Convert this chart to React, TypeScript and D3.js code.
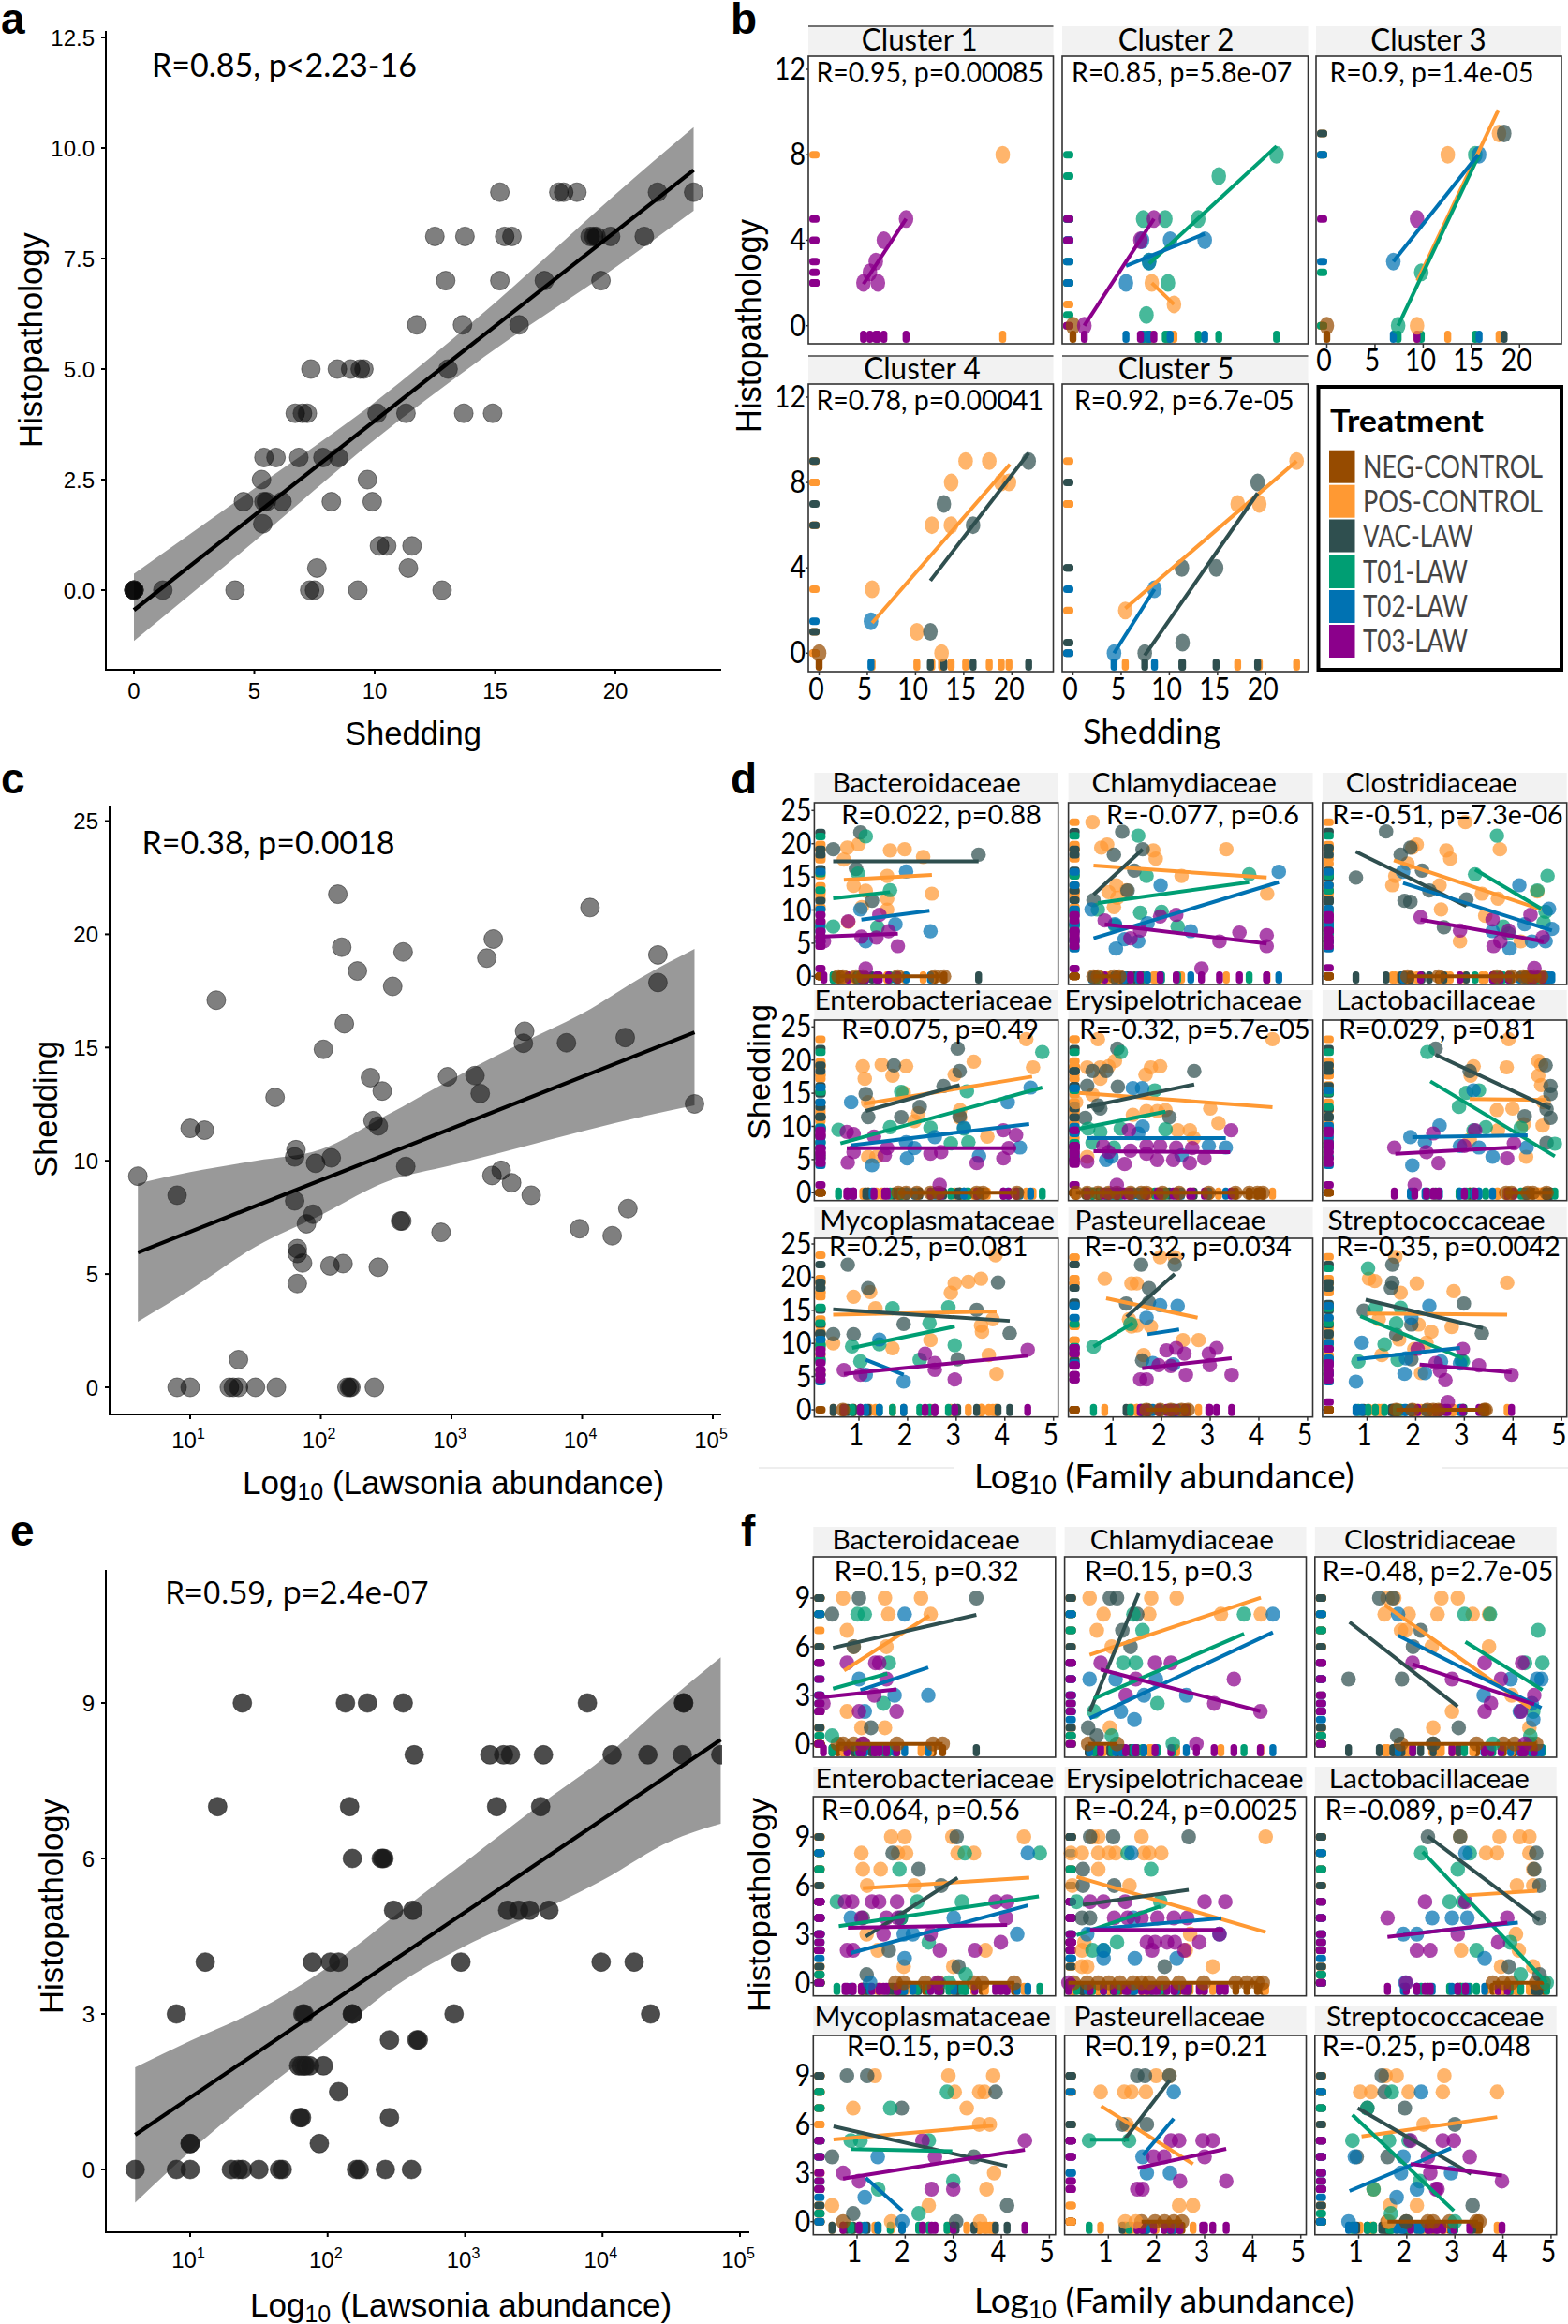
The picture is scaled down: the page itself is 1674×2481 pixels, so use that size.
import React from "react";
import * as d3 from "d3";

// ---------- Treatments ----------
const treatments = ["NEG-CONTROL", "POS-CONTROL", "VAC-LAW", "T01-LAW", "T02-LAW", "T03-LAW"];
const treatmentKeys = ["NEG", "POS", "VAC", "T01", "T02", "T03"];
const treatmentColors = ["#964B00", "#FF9933", "#2F4F4F", "#009E73", "#0072B2", "#8B008B"];

// ---------- Panel a : [shedding, histopathology] flat pairs ----------
const aPoints = [0,0,0,0,0,0,0,0,1.2,0,4.2,0,7.3,0,7.5,0,9.3,0,12.8,0,7.6,.5,11.4,.5,10.2,1,10.5,1,11.55,1,5.35,1.5,4.55,2,5.4,2,5.5,2,6.15,2,8.2,2,9.9,2,5.3,2.5,9.7,2.5,5.4,3,5.9,3,6.85,3,7.85,3,8.5,3,6.7,4,7,4,7.2,4,10.1,4,11.3,4,13.7,4,14.9,4,7.35,5,8.45,5,9,5,9.4,5,9.55,5,13.05,5,11.75,6,13.65,6,16,6,12.95,7,15.2,7,17.05,7,19.4,7,12.5,8,13.75,8,15.4,8,15.7,8,18.95,8,19.1,8,19.2,8,19.8,8,21.2,8,15.2,9,17.65,9,17.85,9,18.4,9,21.75,9,23.25,9];
const aFit = [0, -0.45, 23.25, 9.5];
const aBandX = [0, 5, 10, 15, 20, 23.25];
const aBandHi = [.37, 2.3, 4.25, 6.5, 8.95, 10.47];
const aBandLo = [-1.15, 1.1, 3.4, 5.45, 7.3, 8.58];
const aXTicks = [0, 5, 10, 15, 20];
const aYTicks = [0, 2.5, 5, 7.5, 10, 12.5];

// ---------- Panel c : [log10 abundance, shedding] ----------
const cPoints = [.6,9.32,.9,8.48,1,11.43,1.11,11.35,1.2,17.09,1.65,12.8,2.13,21.77,2.16,19.43,2.28,18.38,2.55,17.7,2.63,19.22,2.18,16.05,2.02,14.92,2.38,13.67,2.47,13.08,2.97,13.71,3.18,13.76,3.22,12.97,3.27,18.95,3.32,19.79,4.06,21.18,4.58,19.09,4.58,17.87,3.56,15.72,3.55,15.19,3.88,15.21,4.33,15.44,4.86,12.51,2.4,11.77,2.44,11.54,1.81,10.49,1.8,10.17,1.96,9.89,2.08,10.13,2.65,9.75,3.31,9.35,3.38,9.58,3.46,9.03,3.61,8.48,1.8,8.23,1.94,7.64,1.89,7.22,2.61,7.34,2.62,7.34,2.92,6.84,3.98,7,4.23,6.69,4.35,7.89,1.82,6.12,1.82,5.91,1.86,5.49,2.07,5.36,2.17,5.46,2.44,5.3,1.82,4.58,1.37,1.22,.9,0,1,0,1.3,0,1.33,0,1.37,0,1.5,0,1.66,0,2.2,0,2.22,0,2.23,0,2.41,0];
const cFit = [.6, 5.95, 4.86, 15.67];
const cBandX = [.6, 1, 1.5, 2, 2.5, 3, 3.5, 4, 4.5, 4.86];
const cBandHi = [9, 9.5, 10, 10.5, 12, 13.6, 15.1, 16.5, 18.25, 19.35];
const cBandLo = [2.9, 4.3, 6.2, 7.6, 9.07, 9.8, 10.55, 11.3, 12, 12.45];
const cXTicks = [1, 2, 3, 4, 5];
const cYTicks = [0, 5, 10, 15, 20, 25];

// ---------- Panel e : [log10 abundance, histopathology] ----------
const ePoints = [1.38,9,2.13,9,2.29,9,2.55,9,3.89,9,4.59,9,4.59,9,2.63,8,3.18,8,3.28,8,3.33,8,3.57,8,4.07,8,4.33,8,4.58,8,4.86,8,1.2,7,2.16,7,3.23,7,3.55,7,2.18,6,2.39,6,2.4,6,2.41,6,2.48,5,2.62,5,3.31,5,3.39,5,3.47,5,3.61,5,1.11,4,1.89,4,2.02,4,2.08,4,2.97,4,3.99,4,4.23,4,.9,3,1.82,3,1.83,3,2.18,3,2.18,3,2.92,3,4.35,3,2.45,2.5,2.65,2.5,2.66,2.5,1.79,2,1.81,2,1.83,2,1.84,2,1.87,2,1.97,2,2.08,1.5,1.8,1,1.81,1,2.45,1,1,.5,1,.5,1.94,.5,.6,0,.9,0,1,0,1.3,0,1.35,0,1.38,0,1.5,0,1.65,0,1.67,0,2.21,0,2.23,0,2.42,0,2.61,0];
const eFit = [.6, .67, 4.86, 8.29];
const eBandX = [.6, 1, 1.5, 2, 2.5, 3, 3.5, 4, 4.5, 4.86];
const eBandHi = [1.97, 2.48, 3.09, 3.9, 4.92, 5.93, 6.95, 7.92, 9.09, 9.88];
const eBandLo = [-.64, .35, 1.46, 2.48, 3.55, 4.31, 4.92, 5.58, 6.34, 6.67];
const eXTicks = [1, 2, 3, 4, 5];
const eYTicks = [0, 3, 6, 9];

// A series: treatment key, flat [x,y,...] points, fit [x1,y1,x2,y2]
type S = [string, number[], number[]];

// ---------- Panel b ----------
const bCluster1: S[] = [
  ["POS", [19.05,8], []],
  ["T03", [4.6,2,6.1,2,5.27,2.5,5.88,3,6.72,4,9.02,5], [4.6,1.95,9.02,5]],
];
const bCluster2: S[] = [
  ["NEG", [0,0], []],
  ["POS", [8.18,2,10.48,1], [8.18,2,10.48,1]],
  ["T01", [7.28,5,9.58,5,13,5,15.13,7,21.12,8,9.86,2,7.62,.5,7.9,3], [7.9,2.9,21.12,8.4]],
  ["T02", [5.5,2,7.17,4,7.9,3,10.08,4,13.67,4], [5.5,2.8,13.67,4.3]],
  ["T03", [1.18,0,7,4,8.4,5], [1.18,0,8.4,5]],
];
const bCluster3: S[] = [
  ["NEG", [0,0], []],
  ["POS", [9.36,0,12.55,8,17.87,9], [9.4,2.1,17.8,10.1]],
  ["VAC", [18.4,9], []],
  ["T01", [7.4,0,9.8,2.5,15.4,8], [7.4,0,15.8,8]],
  ["T02", [6.9,3,15.8,8], [6.9,3,15.7,8]],
  ["T03", [9.36,5], []],
];
const bCluster4: S[] = [
  ["NEG", [0,0], []],
  ["POS", [5.5,3,10.14,1,12.7,0,11.7,6,13.67,6,13.7,8,15.2,9,17.65,9,18.9,8,19.7,8], [5.5,1.42,19.8,8.85]],
  ["VAC", [11.54,1,12.94,7,15.97,6,21.74,9], [11.54,3.4,21.74,9.38]],
  ["T02", [5.38,1.5], []],
];
const bCluster5: S[] = [
  ["POS", [5.43,2,17.09,7,19.33,7,23.2,9], [5.43,2.1,23.2,9]],
  ["VAC", [7.45,0,11.37,.5,11.3,4,14.85,4,19.16,8], [7.45,-.1,19.16,7.5]],
  ["T02", [4.26,0,8.46,3], [4.26,0,8.46,3]],
];

// ---------- Panel d : [log10 family abundance, shedding] ----------
const dBacteroidaceae: S[] = [
  ["NEG", [.58,0,.67,0,.94,0,1.08,0,1.8,0,2.56,0,2.75,0], [.58,0,2.75,0]],
  ["POS", [.76,19.4,.99,19.9,1.64,19,1.94,19.15,2.32,18,.69,17.6,1.58,15.15,.89,13.65,1.14,12.9,2.5,12.47,1.58,11.7,1.06,10.45,1.58,10.07,.78,8.2], [.69,14.54,2.5,15.3]],
  ["VAC", [.47,19.15,1.03,21.7,.94,16.2,1.27,11.4,3.46,18.35], [.47,17.36,3.46,17.36]],
  ["T01", [1.14,21.1,.98,15.5,.47,7.5,1.64,13,1.38,7.4], [.47,11.76,1.64,12.7]],
  ["T02", [1.97,15.8,1.03,10.1,1.75,7.86,2.47,6.8,1.14,5.27], [1.05,8.56,2.45,9.88]],
  ["T03", [1.42,9.27,.78,8.3,1.05,6,1.36,5.84,1.61,6.8,1.8,4.56,.28,5.27,1.14,1.18], [.28,6,1.8,6.45]],
];
const dChlamydiaceae: S[] = [
  ["NEG", [.6,0,.69,0,1.02,0,1.13,0], [.6,0,1.13,0]],
  ["POS", [.58,23.25,.88,19.86,.76,19.4,1.83,19,3.33,19.15,1.88,17.74,2.41,15.15,4.17,12.47,1.07,13.74,.91,12.7,1.09,11.86,1.02,10.45,1.28,13], [.6,16.7,4.16,14.9]],
  ["VAC", [1.19,21.8,1.61,19.15,1.02,18.35,1.44,15.95,1.3,12.94,.6,11.5], [.6,12.33,1.61,19.15]],
  ["T01", [1.52,21.2,1.69,15.15,.69,10.07,1.56,9.6,2,9.74,1.04,7.7,2.33,7.5,3.8,15.4], [.69,11.06,3.8,14.2]],
  ["T02", [4.41,15.76,1.98,13.74,.56,10.1,1.04,7.86,1.71,8,2.6,6.82,1.52,5.27,1.06,4.19,1.24,5.6], [.6,5.74,4.41,14.2]],
  ["T03", [.83,8.42,1.97,9.03,2.3,9.27,1.56,6.9,1.36,5.74,3.6,6.6,4.16,6.2,3.19,5.27,4.16,4.56,2.82,1.18], [.83,7.86,4.16,4.94]],
];
const dClostridiaceae: S[] = [
  ["NEG", [1.83,0,2.47,0,3.67,0,3.97,0,4.21,0,4.3,0,4.43,0,4.58,0], [1.83,0,4.58,0]],
  ["POS", [3.02,23.25,2.02,19.86,1.93,19.4,2.63,19,3.73,19.15,2.71,17.74,1.83,17,1.58,15.15,1.52,13.74,2.49,13.74,3.36,12.47,3.69,11.7,2.52,10.1,3.43,9.13,4.5,12.8,2.91,5.27,4.16,5.27], [1.55,17.5,4.58,10.1]],
  ["VAC", [1.39,21.84,.77,14.9,1.69,18.35,1.89,19.4,2.13,15.95,2.28,12.94,1.77,11.4,1.89,11.25,2.58,7.4,3.04,11.6], [.77,18.8,3.04,10.6]],
  ["T01", [3.67,21.2,3.22,15.4,4.71,15.15,4.5,12.94,4.67,9.74,4.63,8.1,3.8,7.5,3.91,6.45], [3.22,16.1,4.58,10.2]],
  ["T02", [1.74,15.76,4.13,13.74,4.74,10.2,4.24,7.86,3.58,6.82,4.39,5.27,4.67,5.27,3.93,4.19,4.8,7.15], [1.74,14.07,4.8,6.9]],
  ["T03", [2.1,8.94,4.36,9.27,3.58,8.56,2.91,6.9,3.91,6.9,3.74,5.27,3.6,4.56,4.61,5.88,4.44,1.27], [2.1,8.56,4.63,5.27]],
];
const dEnterobacteriaceae: S[] = [
  ["NEG", [1.81,0,1.97,0,2.19,0,2.47,0,2.64,0,3.42,0,3.55,0,4.25,0], [1.81,0,4.25,0]],
  ["POS", [4.44,23.15,3.36,19.76,1.08,19.06,1.47,19.3,1.97,19.06,1.69,17.65,1.12,17.18,2.97,17.8,4.58,18.9,1.19,13.65,3.08,12.47,2.22,12,2.14,10.8,3.64,8.47,3.08,11.3,1.19,5.41,1.36,5.41,1.92,15.06], [1.1,13.4,4.56,17.5]],
  ["VAC", [3.03,21.74,1.72,19.2,3.07,18.35,1.14,14.9,2.74,16.1,2.25,12.94,1.19,11.4,1.87,11.4,3.07,11.53], [1.14,12.33,3.07,16.24]],
  ["T01", [4.77,21.2,1.87,15.2,3.22,15.3,.58,9.5,1.64,9.88,2.47,9.8,3.16,9.65,2.89,7.44,3.25,7.62], [.62,7.44,4.77,15.86]],
  ["T02", [.84,13.65,4.53,15.86,4.06,13.65,3.16,9.79,2.56,8.38,1.97,7.62,2.14,6.73,4.31,6.82,3.47,5.55,1.99,5.18,1.27,4.14], [.83,7.15,4.5,10.35]],
  ["T03", [.75,9.18,.89,8.85,1.31,8.47,1.58,6.73,3.97,9.41,4.23,8.7,4.08,6.73,.89,6.12,.77,4.56,1.53,5.65,2.47,5.88,2.69,6.12,3.42,4.47,3.97,5.18,2.66,1.18], [.75,6.73,4.23,6.73]],
];
const dErysipelotrichaceae: S[] = [
  ["NEG", [.24,0,.47,0,.69,0,.91,0,1.08,0,1.36,0,1.58,0,1.69,0,2.02,0,2.36,0,2.97,0,3.52,0,3.8,0,3.97,0,4.08,0], [.24,0,4.08,0]],
  ["POS", [.69,23.15,4.28,23.15,1.04,19.86,.47,18.9,.74,18.9,.91,19.06,1.78,18.9,1.97,19.06,1.67,17.8,.74,17.18,.24,13.65,.58,14.8,3,12.7,1.41,11.76,1.69,12.33,1.91,12.33,2.08,12.47,3.17,10.5,2.33,9.41,2.58,9.41,2.66,8.24,.47,5.41], [.3,15.06,4.28,12.9]],
  ["VAC", [1.09,21.74,.58,18.35,.86,18.35,2.67,18.35,.47,16.14,1.1,16,.69,13.18,.43,11.3,2.16,11.4,.74,12.7], [.47,12.94,2.67,16.33]],
  ["T01", [1.16,21.2,1.86,15.44,2.08,9.55,.49,9.65,1.16,9.65,.58,7.53,.74,9.18,1.02,6.82], [.3,9.65,2.08,12.23]],
  ["T02", [1.41,15.76,1.6,15.76,1.61,9.98,2.97,7.06,3.32,6.82,.97,5.41,.86,4.94,1.52,8.94,2.41,5.65], [.47,8.24,3.32,8.24]],
  ["T03", [1.33,9.41,3.43,9.41,.8,7.06,1.69,7.06,1.97,7.06,2.3,6.82,2.63,6.73,.47,4.7,1.24,4.33,1.91,4.94,2.24,4.94,2.58,4.47,2.88,5.18,1.08,1.18,.91,6.12,1.36,6.35,1.69,5.88], [.6,6.26,3.41,6.12]],
];
const dLactobacillaceae: S[] = [
  ["NEG", [3.86,0,3.97,0,4.3,0,4.41,0,4.69,0], [3.86,0,4.8,0]],
  ["POS", [3.91,23.15,4.52,19.86,4.58,19.3,3.87,18.9,3.19,19.06,4.52,17.65,3.13,17.65,4.58,16.24,3.67,12.47,3.99,12.7,4.63,13.65,4.61,10.12,4.22,10.35,3.69,9.41,3.11,8,4.27,5.41], [3.11,14.12,4.69,14]],
  ["VAC", [2.41,21.74,3.11,18.35,4.67,19.2,4.77,16.1,4.77,14.9,4.69,12.6,4.77,11.3,4.24,11.53,4.69,7.53], [2.41,20.8,4.77,12.7]],
  ["T01", [2.24,21.2,3.04,15.06,3.3,15.44,2.89,12.94,3.44,9.88,4.16,9.79,4.86,7.39,3.19,9.41], [2.3,16.8,4.86,5.5]],
  ["T02", [3.19,15.44,2.49,10.12,1.89,8.38,2.19,7.62,2.91,7.06,3.3,6.82,3.58,5.41,1.93,4.14,4.28,6.82], [1.93,8.38,4.3,8.66]],
  ["T03", [1.56,6.82,2.36,8.94,3.22,9.41,2.22,6.12,2.47,4.47,3.88,5.18,4.02,7.44,3,7.06,1.98,1.18], [1.58,5.88,4.08,6.87]],
];
const dMycoplasmataceae: S[] = [
  ["NEG", [.67,0], []],
  ["POS", [3.81,23.3,3.51,19.76,3.25,19.3,2.97,19.06,2.89,17.65,.89,17.04,1.23,17.74,1.34,15.3,3.75,13.65,3.51,12.7,3.53,11.76,2.47,10.5,.47,10.02,1.69,9.27,3.67,8.24,3.83,5.41], [.47,14.35,3.83,14.82]],
  ["VAC", [.77,21.88,1.19,18.35,3.86,19.2,3.42,15.06,.47,11.4,.89,11.4,1.92,12.94,4.1,11.53,3.03,7.62], [.47,15.15,4.1,13.4]],
  ["T01", [1.69,15.3,2.84,15.44,2.45,13.08,2.97,9.74,.86,9.55,1.42,9.88,1.03,7.29,2.25,7.53], [.86,9.32,2.97,12.56]],
  ["T02", [1.42,10.59,1.14,5.27,1.92,4.24], [1.14,7.53,1.92,5.27]],
  ["T03", [4.47,9.04,2.36,8.47,.69,5.98,1.03,5.27,2.56,7.06,2.56,6.02,2.97,4.56], [.69,5.41,4.47,8.14]],
];
const dPasteurellaceae: S[] = [
  ["NEG", [1.69,0,1.97,0,2.19,0,2.41,0,2.54,0], [1.69,0,2.54,0]],
  ["POS", [1.97,23,2.27,23,.83,19.76,1.38,19.06,1.49,19.06,1.33,13.65,1.49,12.7,1.38,12.56,1.78,12.56,2.44,10.5,2.76,10.5,1.63,8.24], [.86,16.8,2.74,13.88]],
  ["VAC", [1.58,21.88,2.27,21.88,1.74,18.35,1.27,16,1.74,16.2,1.6,7.44], [1.28,14,2.27,20.47]],
  ["T01", [.6,9.5,1.36,12.94], [.6,9.5,1.41,13.08]],
  ["T02", [2.33,15.67,1.97,15.76,1.69,13.88,1.82,7.06,2.24,6.82], [1.71,11.39,2.36,12.1]],
  ["T03", [2.3,9.32,2.1,8.94,2.47,8.47,3.13,9.32,2.97,8.47,2.99,6.73,1.94,6.73,2.19,6.59,2.5,5.27,3.44,5.27,1.56,4.56,1.69,4.56], [1.6,6.26,3.44,7.76]],
];
const dStreptococcaceae: S[] = [
  ["NEG", [1.6,0,1.93,0,2.24,0,2.36,0,2.47,0,3.41,0,3.44,0], [1.6,0,3.44,0]],
  ["POS", [1.58,23.06,3.88,19.15,1.04,19.76,1.16,19.39,2.02,19.06,1.69,17.65,2.78,17.88,1.24,13.65,2.06,12.85,2.74,12.47,2.32,11.76,1.66,10.59,1.97,9.18,1.3,8.24,2.22,10.12,2.11,5.51], [1,14.5,3.88,14.35]],
  ["VAC", [1.52,21.88,1.52,19.15,1.49,18.35,2.99,16,.93,14.96,1.91,12.85,1.6,11.3,3.36,11.53,1.91,7.62], [.97,16.6,3.38,12.33]],
  ["T01", [1.02,21.32,1.17,15.3,1.69,15.39,1.6,13.04,1.36,9.88,.82,7.29,1.63,7.53,2.97,7.29,2.94,7.4], [.86,14.1,2.97,7.76]],
  ["T02", [2.28,15.67,1.91,13.88,.89,10.12,1.8,7.76,2.52,7.29,2.91,6.96,1.77,5.41,2.19,5.51,.77,4.24], [.8,7.62,2.91,9.32]],
  ["T03", [2.97,9.18,2.04,9.18,2.41,7.06,2.5,5.88,3.3,6.68,2.61,4.47,3.97,5.27,2.66,1.18], [2.08,6.82,3.97,5.65]],
];

// ---------- Panel f : [log10 family abundance, histopathology] ----------
const fBacteroidaceae: S[] = [
  ["NEG", [.6,0,.71,0,.93,0,1.13,0,1.83,0,2.58,0,2.78,0], [.6,0,2.78,0]],
  ["POS", [.71,9,1.58,9,2.33,9,1.65,8,2.53,8,.79,7,.93,6,1.61,6,.79,2,1.09,1,1.58,1], [.73,4.53,2.5,7.9]],
  ["VAC", [1.04,9,3.48,9,.48,8,.93,6,1.29,1], [.5,5.93,3.48,7.96]],
  ["T01", [1.01,8,1.16,8,1.66,5,1.55,2.5,.48,.5], [.5,3.41,1.63,4.34]],
  ["T02", [1.99,8,1.04,4,1.78,3,2.48,3,1.16,2], [1.07,3.31,2.48,4.72]],
  ["T03", [.79,5,1.38,5,1.46,5,1.61,4,1.36,3,.3,2.5,1.04,2,1.82,2,1.12,0], [.3,2.89,1.82,3.37]],
];
const fChlamydiaceae: S[] = [
  ["NEG", [.58,0,1.18,0], [.58,0,1.18,0]],
  ["POS", [.61,9,1.89,9,2.42,9,.9,8,1.85,8,3.34,8,4.17,8,.76,7,1.07,6,1.03,1], [.61,5.49,4.17,9.02]],
  ["VAC", [1.03,9,1.18,9,1.6,8,1.29,7,1.46,6,.58,1,.76,.5], [.61,1.98,1.63,9.29]],
  ["T01", [1.52,8,3.82,8,1.71,7,1.31,5,1.57,5,2.02,2.5,.7,2,1.07,.5,2.34,0], [.7,2.79,3.82,6.8]],
  ["T02", [4.42,8,.61,4,1.15,4,1.99,4,1.74,3,2.62,3,1.26,2,1.54,1.5], [.61,1.58,4.42,6.88]],
  ["T03", [.84,5,1.97,5,2.3,5,1.57,4,3.61,4,1.36,3,3.2,2.5,4.16,2,2.83,0], [.84,4.59,4.16,2.02]],
];
const fClostridiaceae: S[] = [
  ["NEG", [1.88,0,2.55,0,3.45,0,4.01,0,4.24,0,4.57,0,4.69,0], [1.88,0,4.69,0]],
  ["POS", [1.6,9,1.74,9,2.72,9,3.06,9,1.54,8,2.04,8,2.64,8,3.37,8,3.71,8,1.88,7,1.97,7,2.52,6,3.71,6,2.94,2,2.55,1,4.55,1,4.18,3], [1.54,8.57,4.57,2.22]],
  ["VAC", [1.43,9,1.71,9,2.29,7,2.13,6,.79,4,1.9,4,3.08,1,1.8,.5,2.55,0], [.81,7.51,3.06,2.31]],
  ["T01", [3.2,8,3.73,8,4.73,7,4.82,5,4.46,5,4.63,2,4.57,.5,3.79,0], [3.22,6.3,4.82,3.33]],
  ["T02", [1.82,8,4.16,4,4.8,4,4.71,4,3.6,3,4.35,2,4.63,1.5,4.6,2.5], [1.82,6.69,4.8,2.22]],
  ["T03", [3.62,5,2.12,5,4.4,5,2.94,4,3.96,4,4.65,3,3.75,2.5,3.62,2,4.37,2,4.46,0], [2.12,4.91,4.65,2.45]],
];
const fEnterobacteriaceae: S[] = [
  ["NEG", [1.8,0,1.97,0,2.42,0,2.7,0,3.43,0,3.6,0,4.27,0], [1.85,0,4.27,0]],
  ["POS", [1.71,9,1.99,9,2.98,9,4.47,9,1.09,8,1.85,8,2.02,8,3.09,8,3.43,8,1.12,7,1.49,7,1.21,6,2.19,6,1.2,3,1.43,2,3.67,2,1.97,1,3,1], [1.12,5.83,4.58,6.48]],
  ["VAC", [3.07,9,1.74,8,2.28,7,2.75,6,1.12,4,1.91,4,1.66,2,3.11,1,1.2,.5], [1.18,2.85,3.09,6.48]],
  ["T01", [3.24,8,4.8,8,1.88,7,.58,5,2.25,5,3.18,5,1.91,4,2.49,2.5,3.26,.5,2.91,0], [.62,3.5,4.78,5.33]],
  ["T02", [4.55,8,.87,4,3.01,4,1.97,3,2.16,3,4.33,3,1.99,1.5,1.27,0], [.87,1.83,4.55,4.77]],
  ["T03", [.75,5,.9,5,1.31,5,1.46,5,1.83,5,3.88,5,4.12,5,1.09,4,1.61,4,1.85,4,4.1,4,1.55,3,2.53,3,3.99,2.5,.79,2,.92,2,2.72,2,3.45,2,2.67,0], [.81,3.4,4.12,3.56]],
];
const fErysipelotrichaceae: S[] = [
  ["NEG", [.28,0,.56,0,.79,0,1.01,0,1.24,0,1.52,0,1.69,0,1.85,0,2.13,0,2.47,0,2.98,0,3.65,0,3.88,0,4.1,0,4.21,0], [.17,0,4.1,0]],
  ["POS", [.79,9,1.69,9,4.27,9,.67,9,.22,8,.45,8,.79,8,1.01,8,1.15,8,1.74,8,1.85,8,2.1,8,.79,7,.25,6,1.44,6,2.7,3,.45,2,2.61,2,.45,1,3.17,1,.56,1,.5,2.5], [.34,6.54,4.27,3.13]],
  ["VAC", [.62,9,1.1,9,2.67,9,.47,7,.47,6,1.12,6,.45,4,.62,4,2.17,1], [.47,4.81,2.67,5.73]],
  ["T01", [1.4,8,1.89,7,.34,5,2.08,5,1.18,2.5,.67,2,.9,2], [.34,2.94,2.08,4.71]],
  ["T02", [1.48,8,1.52,4,.56,3,3.31,3,.9,2,.9,1.5,1.55,1.5,2.42,1.5], [.54,3.27,3.35,3.98]],
  ["T03", [.62,5,.9,5,1.35,5,3,5,3.43,5,1.12,4,1.4,4,1.69,4,2.02,4,2.36,4,2.64,4,3.31,3,1.8,2.5,1.97,2.5,2.22,2.5,2.38,2.5,2.89,2.5,1.91,2,2.58,2,.17,0], [.62,3.27,3.39,3.27]],
];
const fLactobacillaceae: S[] = [
  ["NEG", [3.79,0,4.01,0,4.18,0,4.69,0,4.85,0], [3.79,0,4.85,0]],
  ["POS", [3.11,9,3.93,9,4.35,9,4.55,9,3.65,8,3.88,8,4.55,8,4.63,7,4.29,6,4.63,6,4.27,3,3.13,2,4.33,2,3.96,1,4.63,1], [3.17,5.38,4.71,5.67]],
  ["VAC", [2.44,9,3.11,9,4.69,8,4.65,7,4.76,6,4.76,4,4.12,1,4.76,.5], [2.44,9.04,4.76,3.85]],
  ["T01", [2.3,8,3.31,8,3.06,7,2.89,5,3.17,5,4.15,2.5,3.45,2,4.37,.5,4.91,0], [2.33,8.08,4.91,0]],
  ["T02", [3.22,8,2.53,4,2.94,4,3.26,4,1.93,3,2.21,3,3.62,1.5,1.97,0], [1.93,2.98,4.31,3.71]],
  ["T03", [2.38,5,3.22,5,1.6,4,4.09,4,3.06,3,3.9,2.5,2.21,2,2.49,2,1.99,0], [1.6,2.83,4.09,3.71]],
];
const fMycoplasmataceae: S[] = [
  ["NEG", [.71,0], []],
  ["POS", [1.37,9,2.9,9,3.83,9,3.03,8,3.54,8,3.65,8,.92,7,3.28,7,3.54,6,3.76,6,3.85,3,3.69,2,.48,1,2.49,1,1.71,0,3.56,0], [.51,5.07,3.83,5.92]],
  ["VAC", [.79,9,1.21,9,3.88,8,1.93,7,.48,4,3.43,4,4.12,1,.92,.5,3.06,0], [.51,5.88,4.12,3.43]],
  ["T01", [2.87,8,1.69,7,.87,5,1.07,5,2.49,5,3,2.5,1.44,2,2.28,.5], [.87,4.47,2.98,4.34]],
  ["T02", [1.43,4,1.16,1.5,1.94,0], [1.18,2.7,1.94,.67]],
  ["T03", [2.36,5,4.49,5,2.62,4,.71,3,1.04,2.5,2.55,2,3,2], [.71,2.66,4.49,4.43]],
];
const fPasteurellaceae: S[] = [
  ["NEG", [1.69,0,1.97,0,2.17,0,2.36,0,2.53,0], [1.69,0,2.53,0]],
  ["POS", [1.99,9,2.27,9,.84,8,1.33,8,1.48,8,1.78,8,1.38,6,2.47,1,2.76,1,1.35,0,1.57,0], [.85,7.13,2.76,3.56]],
  ["VAC", [1.6,9,1.76,9,2.27,9,1.29,6,1.8,6], [1.31,4.97,2.28,8.73]],
  ["T01", [.6,5,1.43,5], [.62,5.05,1.43,5.05]],
  ["T02", [2.36,8,1.71,4,1.8,3,2.28,3], [1.72,4.1,2.36,6.36]],
  ["T03", [2.3,5,2.47,5,2.96,5,3.17,5,1.94,4,2.16,4,3,4,2.49,2.5,3.45,2.5,1.6,2,1.71,2], [1.61,3.31,3.45,4.49]],
];
const fStreptococcaceae: S[] = [
  ["NEG", [1.6,0,1.99,0,2.44,0,2.55,0,2.89,0,3.45,0,3.51,0], [1.6,0,3.48,0]],
  ["POS", [1.56,9,1.79,9,2.78,9,1.03,8,1.26,8,2.04,8,2.75,8,3.88,8,2.35,6,1.31,2,1.65,1,2.21,1,1.63,0], [1.06,5.26,3.88,6.45]],
  ["VAC", [1.48,9,1.54,8,1.96,7,1.18,7,3,6,.96,4,1.6,4,3.37,1,1.99,0], [.98,7,3.34,2.95]],
  ["T01", [1.69,8,1.18,7,.87,5,1.63,5,2.04,5,2.27,2.5,1.31,2,1.67,.5,3,0], [.87,6.59,2.98,.67]],
  ["T02", [2.3,8,.92,4,1.93,4,1.88,3,2.92,3,2.21,2,1.79,1.5,.79,0], [.81,1.89,2.92,4.53]],
  ["T03", [2.08,5,2.75,5,2.98,5,2.44,4,3.31,4,2.49,3,3.98,2.5,2.61,2,2.64,2], [2.08,3.56,3.98,2.85]],
];

const bTicksX = [0, 5, 10, 15, 20];
const bTicksY = [0, 4, 8, 12];
const dTicksX = [1, 2, 3, 4, 5];
const dTicksY = [0, 5, 10, 15, 20, 25];
const fTicksY = [0, 3, 6, 9];

const SANS = "'Liberation Sans', Arial, sans-serif";
const CAL = "Lato, 'Open Sans', sans-serif";
const DIGIT = 16.5;

function pairs(flat: number[]): [number, number][] {
  const out: [number, number][] = [];
  for (let i = 0; i + 1 < flat.length; i += 2) out.push([flat[i], flat[i + 1]]);
  return out;
}
const colorOf = (k: string) => treatmentColors[treatmentKeys.indexOf(k)];

// ---------- Main scatter panel ----------
function Main(p: any) {
  const { points, fit, bandX, bandHi, bandLo, x, y, xTicks, yTicks, axX, axY, top, right, clipX, log, fill, labelY, id, yFmt } = p;
  const area = d3.area<number>().x((_, i) => x(bandX[i])).y0((_, i) => y(bandLo[i])).y1((_, i) => y(bandHi[i])).curve(d3.curveMonotoneX);
  return (
    <g>
      <clipPath id={id}><rect x={0} y={0} width={clipX} height={2481} /></clipPath>
      <path d={area(bandHi) || ""} fill="#000" fillOpacity={0.4} />
      <g clipPath={`url(#${id})`}>
        {pairs(points).map(([a, b], i) => (
          <circle key={i} cx={x(a)} cy={y(b)} r={10} fill={fill} fillOpacity={p.alpha} stroke="#222" strokeOpacity={0.55} strokeWidth={1} />
        ))}
      </g>
      <line x1={x(fit[0])} y1={y(fit[1])} x2={x(fit[2])} y2={y(fit[3])} stroke="#000" strokeWidth={4.2} />
      <line x1={axX} x2={axX} y1={top} y2={axY} stroke="#000" strokeWidth={2} />
      <line x1={axX - 1} x2={right} y1={axY} y2={axY} stroke="#000" strokeWidth={2} />
      {yTicks.map((t: number) => (
        <g key={t}>
          <line x1={axX - 5} x2={axX} y1={y(t)} y2={y(t)} stroke="#000" strokeWidth={2} />
          <text x={axX - 12} y={y(t) + 8.5} textAnchor="end" fontFamily={SANS} fontSize={24}>{yFmt(t)}</text>
        </g>
      ))}
      {xTicks.map((t: number) => (
        <g key={t}>
          <line x1={x(t)} x2={x(t)} y1={axY} y2={axY + 5} stroke="#000" strokeWidth={2} />
          {log ? (
            <text x={x(t) - 2} y={labelY} textAnchor="middle" fontFamily={SANS} fontSize={24}>10<tspan dy={-10} fontSize={16}>{t}</tspan></text>
          ) : (
            <text x={x(t)} y={labelY} textAnchor="middle" fontFamily={SANS} fontSize={24}>{t}</text>
          )}
        </g>
      ))}
    </g>
  );
}

// ---------- Facet panel ----------
function Facet(p: any) {
  const { series, title, r, left, right, stripTop, stripBot, bottom, x, y, tx, rx, tb, rb, ts, rs, yTicks, xTicks, xLabelY, rad, radY, showY, topLine } = p;
  return (
    <g>
      <rect x={left} y={stripTop} width={right - left} height={stripBot - stripTop} fill="#f2f2f2" />
      {topLine && <line x1={left} x2={right} y1={stripTop} y2={stripTop} stroke="#444" strokeWidth={1.5} />}
      <rect x={left} y={stripBot} width={right - left} height={bottom - stripBot} fill="#fff" />
      {series.map((s: S, si: number) => pairs(s[1]).map(([a, b], i) => (
        <g key={`r${si}-${i}`} fill={colorOf(s[0])}>
          <rect x={left + 1} y={y(b) - 4} width={11} height={8} rx={3.5} />
          <rect x={x(a) - 3.7} y={bottom - 14} width={7.4} height={13} rx={3.5} />
        </g>
      )))}
      {series.map((s: S, si: number) => pairs(s[1]).map(([a, b], i) => (
        <ellipse key={`p${si}-${i}`} cx={x(a)} cy={y(b)} rx={rad} ry={radY} fill={colorOf(s[0])} fillOpacity={0.72} />
      )))}
      {series.map((s: S, si: number) => s[2].length ? (
        <line key={`l${si}`} x1={x(s[2][0])} y1={y(s[2][1])} x2={x(s[2][2])} y2={y(s[2][3])} stroke={colorOf(s[0])} strokeWidth={4} />
      ) : null)}
      <rect x={left} y={stripBot} width={right - left} height={bottom - stripBot} fill="none" stroke="#333" strokeWidth={1.6} />
      <text x={tx[0]} y={tb} textLength={tx[1] - tx[0]} lengthAdjust="spacingAndGlyphs" fontFamily={CAL} fontSize={ts}>{title}</text>
      <text x={rx[0]} y={rb} textLength={rx[1] - rx[0]} lengthAdjust="spacingAndGlyphs" fontFamily={CAL} fontSize={rs}>{r}</text>
      {showY && yTicks.map((t: number) => (
        <g key={t}>
          <line x1={left - 3} x2={left} y1={y(t)} y2={y(t)} stroke="#333" strokeWidth={1.5} />
          <text x={left - 3 - `${t}`.length * DIGIT} y={y(t) + 11} textLength={`${t}`.length * DIGIT} lengthAdjust="spacingAndGlyphs" fontFamily={CAL} fontSize={32}>{t}</text>
        </g>
      ))}
      {xTicks && xTicks.map((t: number) => (
        <g key={t}>
          <line x1={x(t)} x2={x(t)} y1={bottom} y2={bottom + 4} stroke="#333" strokeWidth={1.5} />
          <text x={x(t) - 3 - `${t}`.length * DIGIT / 2} y={xLabelY} textLength={`${t}`.length * DIGIT} lengthAdjust="spacingAndGlyphs" fontFamily={CAL} fontSize={32}>{t}</text>
        </g>
      ))}
    </g>
  );
}

const zx = (z: number) => 770 + z / 1.735;
const ux = (z: number) => 780 + z / 1.733;
const zr = (a: number, b: number) => [ux(a), ux(b)];

function Label({ x, y, c }: any) {
  return <text x={x} y={y} fontFamily={SANS} fontWeight={700} fontSize={46}>{c}</text>;
}

function RotText({ x, y, len, size, family, children }: any) {
  return (
    <text transform={`translate(${x},${y}) rotate(-90)`} textLength={len} lengthAdjust="spacingAndGlyphs" fontFamily={family} fontSize={size} textAnchor="start">{children}</text>
  );
}

export default function App() {
  // panel a
  const ax = d3.scaleLinear().domain([0, 20]).range([143, 657]);
  const ay = d3.scaleLinear().domain([0, 12.5]).range([630, 40]);
  const cx = d3.scaleLinear().domain([1, 5]).range([203, 761]);
  const cy = d3.scaleLinear().domain([0, 25]).range([1481, 876.5]);
  const ex = d3.scaleLinear().domain([1, 5]).range([203, 790]);
  const ey = d3.scaleLinear().domain([0, 9]).range([2316, 1818]);

  // facet b
  const bCols = [[863, 1124.5], [1134, 1396.5], [1405, 1667]];
  const bXs = (l: number) => d3.scaleLinear().domain([0, 20]).range([l + 11.5, l + 11.5 + 205.8]);
  const bY1 = d3.scaleLinear().domain([0, 12]).range([347.7, 74]);
  const bY2 = d3.scaleLinear().domain([0, 12]).range([697.3, 424]);
  const bFacets = [
    { series: bCluster1, title: "Cluster 1", r: "R=0.95, p=0.00085", c: 0, row: 0, t: [260, 475], rr: [176, 597], topLine: true },
    { series: bCluster2, title: "Cluster 2", r: "R=0.85, p=5.8e-07", c: 1, row: 0, t: [735, 950], rr: [649, 1057] },
    { series: bCluster3, title: "Cluster 3", r: "R=0.9, p=1.4e-05", c: 2, row: 0, t: [1203, 1417], rr: [1127, 1505] },
    { series: bCluster4, title: "Cluster 4", r: "R=0.78, p=0.00041", c: 0, row: 1, t: [264, 480], rr: [176, 597], topLine: true },
    { series: bCluster5, title: "Cluster 5", r: "R=0.92, p=6.7e-05", c: 1, row: 1, t: [735, 950], rr: [654, 1061], topLine: true },
  ];

  // facet d
  const dCols = [[869.4, 1129.7], [1140.6, 1401.5], [1411.9, 1672.7]];
  const dRows = [
    { st: 825, sb: 857, b: 1051, y0: 1042.3, tb: 846, rb: 880 },
    { st: 1057, sb: 1089, b: 1281.7, y0: 1273.3, tb: 1078, rb: 1109 },
    { st: 1289, sb: 1322, b: 1512.7, y0: 1505, tb: 1313, rb: 1341 },
  ];
  const dFacets = [
    { series: dBacteroidaceae, title: "Bacteroidaceae", r: "R=0.022, p=0.88", c: 0, row: 0, t: [188, 537], rr: [205, 575] },
    { series: dChlamydiaceae, title: "Chlamydiaceae", r: "R=-0.077, p=0.6", c: 1, row: 0, t: [668, 1010], rr: [695, 1052] },
    { series: dClostridiaceae, title: "Clostridiaceae", r: "R=-0.51, p=7.3e-06", c: 2, row: 0, t: [1138, 1455], rr: [1113, 1540] },
    { series: dEnterobacteriaceae, title: "Enterobacteriaceae", r: "R=0.075, p=0.49", c: 0, row: 1, t: [155, 595], rr: [205, 570] },
    { series: dErysipelotrichaceae, title: "Erysipelotrichaceae", r: "R=-0.32, p=5.7e-05", c: 1, row: 1, t: [618, 1057], rr: [645, 1072] },
    { series: dLactobacillaceae, title: "Lactobacillaceae", r: "R=0.029, p=0.81", c: 2, row: 1, t: [1120, 1490], rr: [1125, 1490] },
    { series: dMycoplasmataceae, title: "Mycoplasmataceae", r: "R=0.25, p=0.081", c: 0, row: 2, t: [165, 600], rr: [182, 550] },
    { series: dPasteurellaceae, title: "Pasteurellaceae", r: "R=-0.32, p=0.034", c: 1, row: 2, t: [637, 990], rr: [655, 1038] },
    { series: dStreptococcaceae, title: "Streptococcaceae", r: "R=-0.35, p=0.0042", c: 2, row: 2, t: [1105, 1507], rr: [1120, 1535] },
  ];

  // facet f
  const fCols = [[868.3, 1126.8], [1136.6, 1394.5], [1403.8, 1661.7]];
  const fRows = [
    { st: 1630, sb: 1662, b: 1876, y0: 1861.7, tb: 1654, rb: 1688 },
    { st: 1886, sb: 1918, b: 2130.7, y0: 2116.7, tb: 1909, rb: 1943 },
    { st: 2141.7, sb: 2173, b: 2385.7, y0: 2371.7, tb: 2163, rb: 2195 },
  ];
  const fFacets = [
    { series: fBacteroidaceae, title: "Bacteroidaceae", r: "R=0.15, p=0.32", c: 0, row: 0, t: [188, 535], rr: [192, 533] },
    { series: fChlamydiaceae, title: "Chlamydiaceae", r: "R=0.15, p=0.3", c: 1, row: 0, t: [665, 1005], rr: [655, 967] },
    { series: fClostridiaceae, title: "Clostridiaceae", r: "R=-0.48, p=2.7e-05", c: 2, row: 0, t: [1135, 1452], rr: [1095, 1522] },
    { series: fEnterobacteriaceae, title: "Enterobacteriaceae", r: "R=0.064, p=0.56", c: 0, row: 1, t: [157, 598], rr: [168, 535] },
    { series: fErysipelotrichaceae, title: "Erysipelotrichaceae", r: "R=-0.24, p=0.0025", c: 1, row: 1, t: [620, 1060], rr: [637, 1050] },
    { series: fLactobacillaceae, title: "Lactobacillaceae", r: "R=-0.089, p=0.47", c: 2, row: 1, t: [1107, 1478], rr: [1100, 1485] },
    { series: fMycoplasmataceae, title: "Mycoplasmataceae", r: "R=0.15, p=0.3", c: 0, row: 2, t: [155, 592], rr: [215, 525] },
    { series: fPasteurellaceae, title: "Pasteurellaceae", r: "R=0.19, p=0.21", c: 1, row: 2, t: [635, 988], rr: [655, 995] },
    { series: fStreptococcaceae, title: "Streptococcaceae", r: "R=-0.25, p=0.048", c: 2, row: 2, t: [1102, 1505], rr: [1095, 1480] },
  ];

  const legendY = [480.7, 517.7, 554.5, 593, 630, 667];

  return (
    <svg width={1674} height={2481} style={{ position: "absolute", left: 0, top: 0, background: "#fff" }}>
      {/* panel a */}
      <Label x={1} y={36} c="a" />
      <Main id="ca" points={aPoints} fit={aFit} bandX={aBandX} bandHi={aBandHi} bandLo={aBandLo} x={ax} y={ay} xTicks={aXTicks} yTicks={aYTicks}
        axX={113} axY={715} top={33} right={770} clipX={1000} fill="#000" alpha={0.5} labelY={746} yFmt={(t: number) => t.toFixed(1)} />
      <text x={162} y={81.6} textLength={283} lengthAdjust="spacingAndGlyphs" fontFamily={CAL} fontSize={34}>R=0.85, p&lt;2.23-16</text>
      <RotText x={45} y={478} len={230} size={35} family={SANS}>Histopathology</RotText>
      <text x={368} y={795} textLength={146} lengthAdjust="spacingAndGlyphs" fontFamily={SANS} fontSize={35}>Shedding</text>

      {/* panel c */}
      <Label x={1} y={847} c="c" />
      <Main id="cc" points={cPoints} fit={cFit} bandX={cBandX} bandHi={cBandHi} bandLo={cBandLo} x={cx} y={cy} xTicks={cXTicks} yTicks={cYTicks}
        axX={117} axY={1510} top={860} right={770} clipX={1000} fill="#000" alpha={0.5} labelY={1546} log yFmt={(t: number) => `${t}`} />
      <text x={151.5} y={912} textLength={270} lengthAdjust="spacingAndGlyphs" fontFamily={CAL} fontSize={34}>R=0.38, p=0.0018</text>
      <RotText x={61} y={1257} len={146} size={35} family={SANS}>Shedding</RotText>
      <text x={259} y={1595} fontFamily={SANS} fontSize={35}>Log<tspan dy={6} fontSize={25}>10</tspan><tspan dy={-6}> (Lawsonia abundance)</tspan></text>

      {/* panel e */}
      <Label x={11} y={1650} c="e" />
      <Main id="ce" points={ePoints} fit={eFit} bandX={eBandX} bandHi={eBandHi} bandLo={eBandLo} x={ex} y={ey} xTicks={eXTicks} yTicks={eYTicks}
        axX={113} axY={2383} top={1676} right={800} clipX={771} fill="#1a1a1a" alpha={0.78} labelY={2421} log yFmt={(t: number) => `${t}`} />
      <text x={176} y={1712} textLength={282} lengthAdjust="spacingAndGlyphs" fontFamily="'Open Sans', sans-serif" fontSize={32}>R=0.59, p=2.4e-07</text>
      <RotText x={67} y={2150} len={230} size={35} family={SANS}>Histopathology</RotText>
      <text x={267} y={2473} fontFamily={SANS} fontSize={35}>Log<tspan dy={6} fontSize={25}>10</tspan><tspan dy={-6}> (Lawsonia abundance)</tspan></text>

      {/* panel b */}
      <Label x={780} y={36} c="b" />
      {bFacets.map((f, i) => {
        const [l, r] = bCols[f.c];
        const row = f.row === 0 ? { st: 28, sb: 60, b: 367, y: bY1, tb: 54, rb: 88 } : { st: 380, sb: 410, b: 717, y: bY2, tb: 405, rb: 438 };
        return (
          <Facet key={i} series={f.series} title={f.title} r={f.r} left={l} right={r} stripTop={row.st} stripBot={row.sb} bottom={row.b}
            x={bXs(l)} y={row.y} tx={[zx(f.t[0]), zx(f.t[1])]} rx={[zx(f.rr[0]), zx(f.rr[1])]} tb={row.tb} rb={row.rb} ts={33} rs={31}
            yTicks={bTicksY} showY={f.c === 0} xTicks={f.row === 1 || f.c === 2 ? bTicksX : null} xLabelY={f.row === 0 ? 396 : 747}
            rad={7.8} radY={9.5} topLine={(f as any).topLine} />
        );
      })}
      <RotText x={812} y={462} len={228} size={36} family={SANS}>Histopathology</RotText>
      <text x={1156} y={794} textLength={147} lengthAdjust="spacingAndGlyphs" fontFamily={CAL} fontSize={37}>Shedding</text>

      {/* legend */}
      <rect x={1407.5} y={413} width={259.5} height={302} fill="#fff" stroke="#000" strokeWidth={4} />
      <text x={1420} y={461} textLength={164} lengthAdjust="spacingAndGlyphs" fontFamily={CAL} fontWeight={700} fontSize={33}>Treatment</text>
      {treatments.map((t, i) => (
        <g key={t}>
          <rect x={1419} y={legendY[i]} width={27.5} height={35} fill={treatmentColors[i]} />
          <text x={1455} y={legendY[i] + 29} textLength={(i < 2 ? 192 : i === 2 ? 118 : 112)} lengthAdjust="spacingAndGlyphs" fontFamily={CAL} fontSize={33} fill="#444">{t}</text>
        </g>
      ))}

      {/* panel d */}
      <Label x={780} y={847} c="d" />
      {dFacets.map((f, i) => {
        const [l, r] = dCols[f.c];
        const row = dRows[f.row];
        return (
          <Facet key={i} series={f.series} title={f.title} r={f.r} left={l} right={r} stripTop={row.st} stripBot={row.sb} bottom={row.b}
            x={d3.scaleLinear().domain([1, 5]).range([l + 47.6, l + 47.6 + 207.7])}
            y={d3.scaleLinear().domain([0, 25]).range([row.y0, row.y0 - 177])}
            tx={zr(f.t[0], f.t[1])} rx={zr(f.rr[0], f.rr[1])} tb={row.tb} rb={row.rb} ts={29} rs={29}
            yTicks={dTicksY} showY={f.c === 0} xTicks={f.row === 2 ? dTicksX : null} xLabelY={1543} rad={7.8} radY={7.6} />
        );
      })}
      <RotText x={822} y={1217} len={145} size={33} family={SANS}>Shedding</RotText>
      <line x1={810} x2={1018} y1={1567} y2={1567} stroke="#ddd" strokeWidth={1} />
      <line x1={1540} x2={1674} y1={1567} y2={1567} stroke="#ddd" strokeWidth={1} />
      <text x={1040} y={1589} fontFamily={CAL} fontSize={37}>Log<tspan dy={6} fontSize={26}>10</tspan><tspan dy={-6}> (Family abundance)</tspan></text>

      {/* panel f */}
      <Label x={791} y={1650} c="f" />
      {fFacets.map((f, i) => {
        const [l, r] = fCols[f.c];
        const row = fRows[f.row];
        return (
          <Facet key={i} series={f.series} title={f.title} r={f.r} left={l} right={r} stripTop={row.st} stripBot={row.sb} bottom={row.b}
            x={d3.scaleLinear().domain([1, 5]).range([l + 46.7, l + 46.7 + 205.4])}
            y={d3.scaleLinear().domain([0, 9]).range([row.y0, row.y0 - 155.7])}
            tx={zr(f.t[0], f.t[1])} rx={zr(f.rr[0], f.rr[1])} tb={row.tb} rb={row.rb} ts={29} rs={30}
            yTicks={fTicksY} showY={f.c === 0} xTicks={f.row === 2 ? dTicksX : null} xLabelY={2415} rad={7.8} radY={8} />
        );
      })}
      <RotText x={822} y={2148} len={229} size={33} family={SANS}>Histopathology</RotText>
      <text x={1040} y={2469} fontFamily={CAL} fontSize={37}>Log<tspan dy={6} fontSize={26}>10</tspan><tspan dy={-6}> (Family abundance)</tspan></text>
    </svg>
  );
}
